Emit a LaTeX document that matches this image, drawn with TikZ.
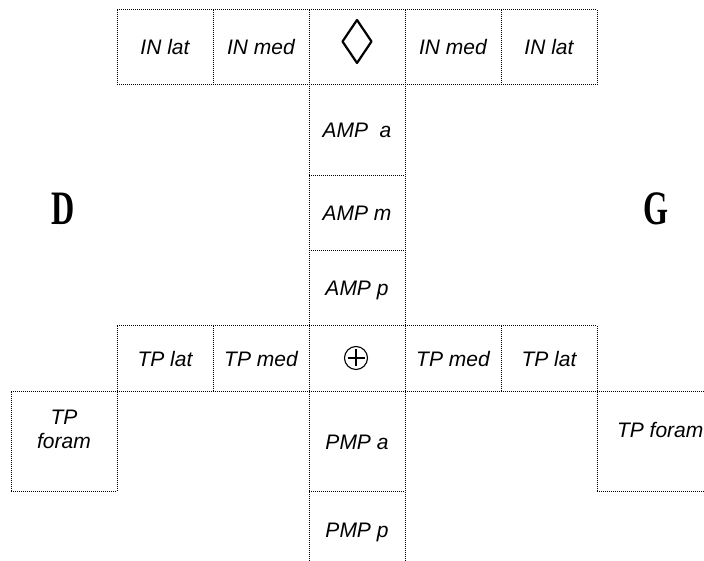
\documentclass[tikz,border=0pt]{standalone}
\usepackage{fontspec}
\newfontfamily\labfont{Liberation Sans}
\newfontfamily\sidefont[FakeStretch=0.67]{Liberation Serif}
\tikzset{
  cell/.style={rectangle, inner sep=0pt, outer sep=0pt, minimum width=96pt,
    font=\labfont\itshape\fontsize{21}{24}\selectfont,
    text height=15pt, text depth=0pt},
  lab/.style={inner sep=0pt, outer sep=0pt,
    font=\labfont\itshape\fontsize{21}{24}\selectfont},
  grid/.style={draw=black, densely dotted, line width=1pt},
  side/.style={inner sep=0pt, anchor=base,
    font=\sidefont\bfseries\fontsize{48}{48}\selectfont},
  symline/.style={draw=black, solid}
}
\begin{document}
\begin{tikzpicture}[x=1pt,y=1pt]
\clip (0,0) rectangle (704,561);
\fill[white] (0,0) rectangle (704,561);

% top row
\node[cell, minimum height=75pt] (inlatL) at (165,513.5) {IN lat};
\node[cell, minimum height=75pt] (inmedL) at (261,513.5) {IN med};
\node[cell, minimum height=75pt] (diam)   at (357,513.5) {};
\node[cell, minimum height=75pt] (inmedR) at (453,513.5) {IN med};
\node[cell, minimum height=75pt] (inlatR) at (549,513.5) {IN lat};

% upper column
\node[cell, minimum height=91pt] (ampa) at (357,430.5) {AMP\ \ a};
\node[cell, minimum height=75pt] (ampm) at (357,347.5) {AMP m};
\node[cell, minimum height=75pt] (ampp) at (357,272.5) {AMP p};

% middle row
\node[cell, minimum height=66pt] (tplatL) at (165,202) {TP lat};
\node[cell, minimum height=66pt] (tpmedL) at (261,202) {TP med};
\node[cell, minimum height=66pt] (plus)   at (357,202) {};
\node[cell, minimum height=66pt] (tpmedR) at (453,202) {TP med};
\node[cell, minimum height=66pt] (tplatR) at (549,202) {TP lat};

% lower column and side boxes
\node[cell, minimum height=100pt] (pmpa) at (357,119) {PMP a};
\node[cell, minimum height=76pt] (pmpp) at (357,31) {PMP p};
\node[cell, minimum width=106pt, minimum height=100pt] (foramL) at (64,119) {};
\node[cell, minimum width=163pt, minimum height=100pt] (foramR) at (678.5,119) {};
\node[lab, align=center, anchor=north] (foramLtxt) at (64,151) {TP\\foram};
\node[lab, anchor=west, text height=15pt, text depth=0pt] (foramRtxt) at (617,131) {TP foram};

% side letters
\node[side] (sideD) at (63,336) {D};
\node[side] (sideG) at (656,336) {G};

% horizontal rules
\draw[grid] (inlatL.north west) -- (inlatR.north east);
\draw[grid] (inlatL.south west) -- (inlatR.south east);
\draw[grid] (ampa.south west) -- (ampa.south east);
\draw[grid] (ampm.south west) -- (ampm.south east);
\draw[grid] (tplatL.north west) -- (tplatR.north east);
\draw[grid] (foramL.north west) -- (foramR.north east);
\draw[grid] (foramL.south west) -- (foramL.south east);
\draw[grid] (pmpa.south west) -- (pmpa.south east);
\draw[grid] (foramR.south west) -- (foramR.south east);

% vertical rules
\draw[grid] (inlatL.north west) -- (inlatL.south west);
\draw[grid] (inmedL.north west) -- (inmedL.south west);
\draw[grid] (inlatR.north west) -- (inlatR.south west);
\draw[grid] (inlatR.north east) -- (inlatR.south east);
\draw[grid] (diam.north west) -- (pmpp.south west);
\draw[grid] (diam.north east) -- (pmpp.south east);
\draw[grid] (tplatL.north west) -- (tplatL.south west);
\draw[grid] (tpmedL.north west) -- (tpmedL.south west);
\draw[grid] (tplatR.north west) -- (tplatR.south west);
\draw[grid] (tplatR.north east) -- (tplatR.south east);
\draw[grid] (foramL.north west) -- (foramL.south west);
\draw[grid] (foramL.north east) -- (foramL.south east);
\draw[grid] (foramR.north west) -- (foramR.south west);

% diamond symbol
\draw[symline, line width=2.2pt, line join=round]
  ([xshift=-14.5pt,yshift=6pt]diam.center) -- ([yshift=27.5pt]diam.center)
  -- ([xshift=14.5pt,yshift=6pt]diam.center) -- ([yshift=-15.5pt]diam.center) -- cycle;

% circled plus
\draw[symline, line width=1.1pt] ([xshift=-1pt,yshift=1pt]plus.center) circle (11.5pt);
\draw[symline, line width=1.3pt]
  ([xshift=-9.5pt,yshift=1pt]plus.center) -- ([xshift=7.5pt,yshift=1pt]plus.center)
  ([xshift=-1pt,yshift=-7.5pt]plus.center) -- ([xshift=-1pt,yshift=9.5pt]plus.center);
\end{tikzpicture}
\end{document}
